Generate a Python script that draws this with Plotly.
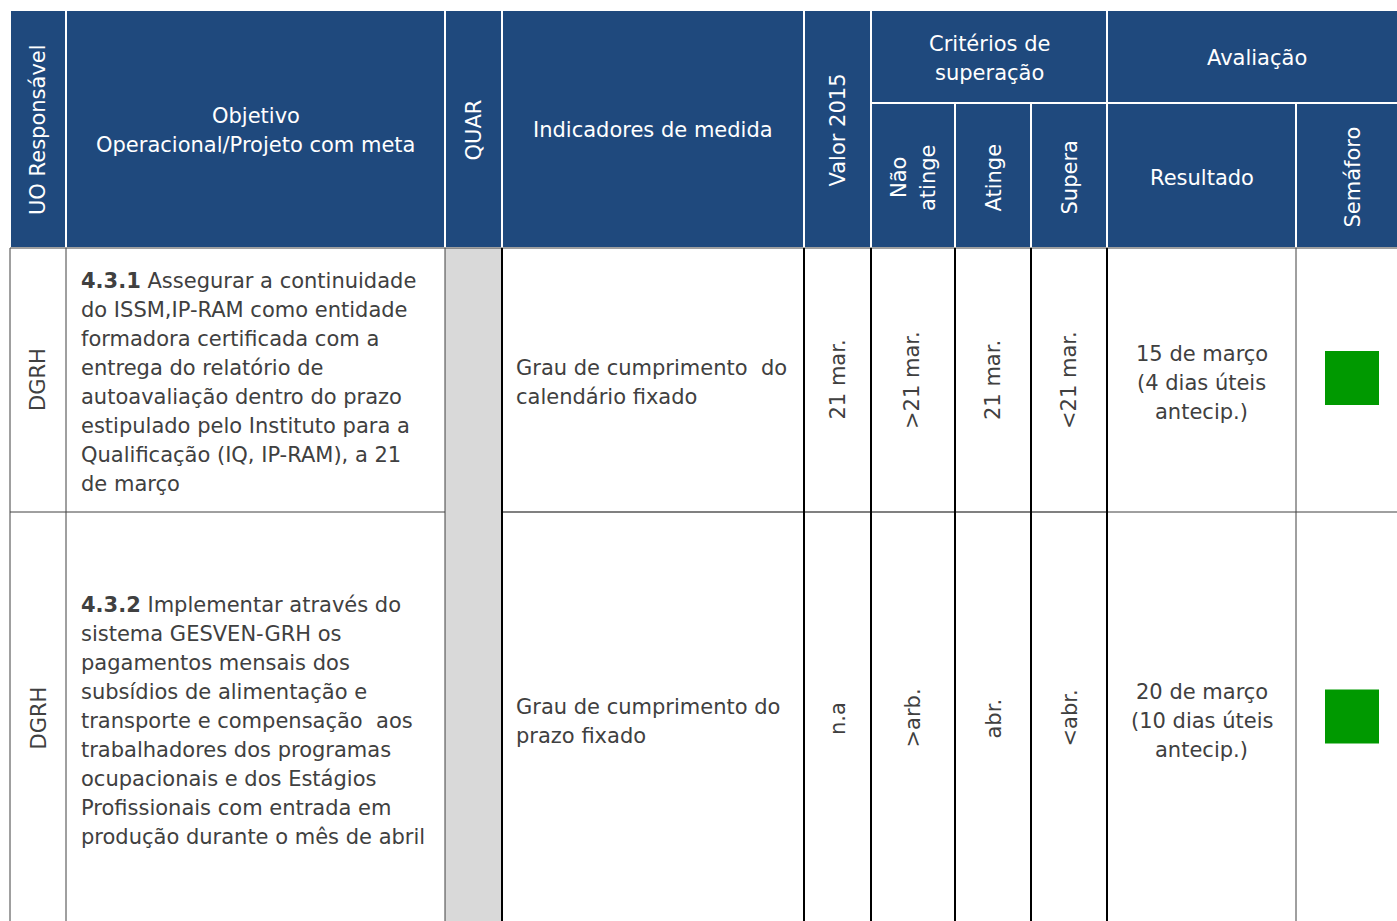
import plotly.graph_objects as go

# ---------------- data ----------------
header_main = [["UO Responsável"], ["Objetivo", "Operacional/Projeto com meta"], ["QUAR"],
               ["Indicadores de medida"], ["Valor 2015"]]
header_group = [["Critérios de", "superação"], ["Avaliação"]]
header_sub = [["Não", "atinge"], ["Atinge"], ["Supera"], ["Resultado"], ["Semáforo"]]

uo = ["DGRH", "DGRH"]
objetivo_num = ["4.3.1", "4.3.2"]
objetivo_text = [
    ["Assegurar a continuidade", "do ISSM,IP-RAM como entidade", "formadora certificada com a",
     "entrega do relatório de", "autoavaliação dentro do prazo", "estipulado pelo Instituto para a",
     "Qualificação (IQ, IP-RAM), a 21", "de março"],
    ["Implementar através do", "sistema GESVEN-GRH os", "pagamentos mensais dos",
     "subsídios de alimentação e", "transporte e compensação\u00a0 aos", "trabalhadores dos programas",
     "ocupacionais e dos Estágios", "Profissionais com entrada em", "produção durante o mês de abril"],
]
indicador = [["Grau de cumprimento\u00a0 do", "calendário fixado"],
             ["Grau de cumprimento do", "prazo fixado"]]
valor_2015 = ["21 mar.", "n.a"]
nao_atinge = [">21 mar.", ">arb."]
atinge = ["21 mar.", "abr."]
supera = ["<21 mar.", "<abr."]
resultado = [["15 de março", "(4 dias úteis", "antecip.)"],
             ["20 de março", "(10 dias úteis", "antecip.)"]]
semaforo = ["verde", "verde"]

# ---------------- layout geometry ----------------
W, H = 1397, 921
FONT = "DejaVu Sans, Noto Sans, sans-serif"
BODY_SIZE = 21
HDR_SIZE = 21
LS = 29  # line spacing in px
BLUE = "#1F497D"
TXT = "#404040"
SEM_COLORS = {"verde": "#009900", "amarelo": "#FFC000", "vermelho": "#C00000"}

x_edges = [10, 66, 445, 502, 804, 871, 955, 1031, 1107, 1296, 1420]
top, mid_h, hdr_bot = 10, 103, 248
row_edges = [248, 512, 930]

fig = go.Figure()
shapes = []
ann = []

def rect(x0, y0, x1, y1, fill, lw=0, lc="white"):
    shapes.append(dict(type="rect", x0=x0, y0=y0, x1=x1, y1=y1, fillcolor=fill,
                       line=dict(width=lw, color=lc), layer="below"))

def line(x0, y0, x1, y1, color, width):
    shapes.append(dict(type="line", x0=x0, y0=y0, x1=x1, y1=y1,
                       line=dict(color=color, width=width)))

def text(x, y, lines, color=TXT, size=BODY_SIZE, angle=0, xanchor="center"):
    n = len(lines)
    for k, s in enumerate(lines):
        off = (k - (n - 1) / 2) * LS
        px, py = (x + off, y) if angle else (x, y + off)
        ann.append(dict(x=px, y=py, text=s, showarrow=False, textangle=angle,
                        xanchor=xanchor, yanchor="middle", align="left",
                        font=dict(family=FONT, size=size, color=color)))

# header background cells
for i in range(5):
    rect(x_edges[i], top, x_edges[i + 1], hdr_bot, BLUE, 2, "white")
rect(x_edges[5], top, x_edges[8], mid_h, BLUE, 2, "white")
rect(x_edges[8], top, x_edges[10], mid_h, BLUE, 2, "white")
for i in range(5, 10):
    rect(x_edges[i], mid_h, x_edges[i + 1], hdr_bot, BLUE, 2, "white")

# QUAR grey column
rect(x_edges[2], hdr_bot, x_edges[3], row_edges[-1], "#D9D9D9")

# header texts
rot_main = [True, False, True, False, True]
for i, lab in enumerate(header_main):
    cx = (x_edges[i] + x_edges[i + 1]) / 2
    text(cx, (top + hdr_bot) / 2 + 1, lab, color="white", size=HDR_SIZE,
         angle=-90 if rot_main[i] else 0)
text((x_edges[5] + x_edges[8]) / 2, (top + mid_h) / 2 + 2, header_group[0], color="white", size=HDR_SIZE)
text((x_edges[8] + 1407) / 2, (top + mid_h) / 2 + 1, header_group[1], color="white", size=HDR_SIZE)
rot_sub = [True, True, True, False, True]
for j, lab in enumerate(header_sub):
    i = 5 + j
    x1 = min(x_edges[i + 1], 1408)
    cx = (x_edges[i] + x1) / 2
    text(cx, (mid_h + hdr_bot) / 2 + 2, lab, color="white", size=HDR_SIZE,
         angle=-90 if rot_sub[j] else 0)

# body lines
line(x_edges[0], hdr_bot, W, hdr_bot, "#404040", 1)
for r in range(len(uo)):
    y0, y1 = row_edges[r], row_edges[r + 1]
    if r > 0:
        line(x_edges[0], y0, x_edges[2], y0, "#404040", 1)
        line(x_edges[3], y0, x_edges[8], y0, "#808080", 2)
        line(x_edges[8], y0, W, y0, "#404040", 1)
for xi, (c, w) in zip(x_edges[:10], [("#404040", 1), ("#404040", 1), ("#404040", 1), ("#000000", 2),
                                     ("#000000", 2), ("#000000", 2), ("#000000", 2), ("#000000", 2),
                                     ("#000000", 2), ("#404040", 1)]):
    line(xi, hdr_bot, xi, row_edges[-1], c, w)

# body texts
sem_x, sem_y = [], []
for r in range(len(uo)):
    y0, y1 = row_edges[r], min(row_edges[r + 1], 925)
    cy = (y0 + y1) / 2
    ty = cy + 2.5
    cxs = [(x_edges[i] + x_edges[i + 1]) / 2 for i in range(10)]
    text(cxs[0], cy, [uo[r]], angle=-90)
    obj = list(objetivo_text[r])
    obj[0] = "<b>%s</b> %s" % (objetivo_num[r], obj[0])
    text(x_edges[1] + 13, ty, obj, xanchor="left")
    text(x_edges[3] + 12, ty, indicador[r], xanchor="left")
    text(cxs[4], cy, [valor_2015[r]], angle=-90)
    text(cxs[5] - 1, cy, [nao_atinge[r]], angle=-90)
    text(cxs[6], cy, [atinge[r]], angle=-90)
    text(cxs[7], cy, [supera[r]], angle=-90)
    text(cxs[8], ty, resultado[r])
    sem_x.append((x_edges[9] + 1408) / 2)
    sem_y.append(cy - 2)

fig.add_trace(go.Scatter(
    x=sem_x, y=sem_y, mode="markers", hoverinfo="skip", showlegend=False,
    marker=dict(symbol="square", size=54, color=[SEM_COLORS[s] for s in semaforo],
                line=dict(width=0))))

fig.update_layout(
    width=W, height=H, margin=dict(l=0, r=0, t=0, b=0),
    paper_bgcolor="white", plot_bgcolor="white",
    xaxis=dict(range=[0, W], visible=False, fixedrange=True),
    yaxis=dict(range=[H, 0], visible=False, fixedrange=True),
    shapes=shapes, annotations=ann, showlegend=False,
)

fig.write_html("out.html", config={"displayModeBar": False},
               post_script="document.body.style.margin='0px';document.body.style.overflow='hidden';")
